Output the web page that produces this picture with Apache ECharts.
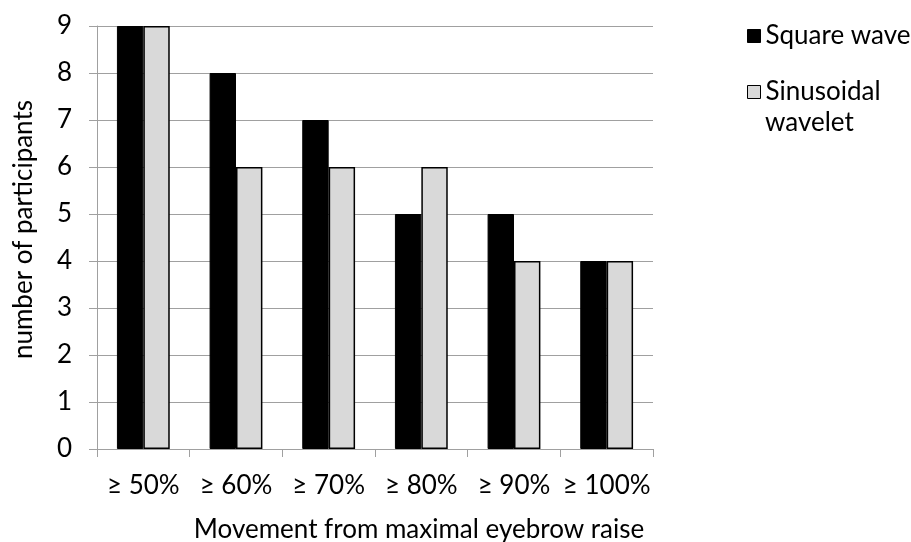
<!DOCTYPE html>
<html>
<head>
<meta charset="utf-8">
<script src="https://cdn.jsdelivr.net/npm/echarts@6/dist/echarts.min.js"></script>
<style>html,body{margin:0;padding:0;background:#fff}#c{width:911px;height:542px}</style>
</head>
<body>
<div id="c"></div>
<script>
var categories = ['≥ 50%', '≥ 60%', '≥ 70%', '≥ 80%', '≥ 90%', '≥ 100%'];
var squareWave = [9, 8, 7, 5, 5, 4];
var sinusoidalWavelet = [9, 6, 6, 6, 4, 4];
var yTicks = [0, 1, 2, 3, 4, 5, 6, 7, 8, 9];
var seriesNames = ['Square wave', 'Sinusoidal wavelet'];

var FONT = 'Lato';
var FS = 26;
var chart = echarts.init(document.getElementById('c'), null, {renderer: 'canvas'});
chart.setOption({
  animation: false,
  backgroundColor: '#ffffff',
  textStyle: {fontFamily: FONT, color: '#000'},
  grid: {left: 97, right: 258, top: 26, bottom: 93, containLabel: false, outerBoundsMode: 'none'},
  legend: {
    orient: 'vertical',
    left: 747,
    top: 20,
    padding: 0,
    itemWidth: 13,
    itemHeight: 13,
    itemGap: 24,
    icon: 'rect',
    selectedMode: false,
    textStyle: {fontFamily: FONT, fontSize: FS, color: '#000', lineHeight: 32},
    data: [
      {name: seriesNames[0], itemStyle: {color: '#000', borderColor: '#000', borderWidth: 1}},
      {name: seriesNames[1], itemStyle: {color: '#d9d9d9', borderColor: '#000', borderWidth: 1}}
    ],
    formatter: function (n) { return n === seriesNames[1] ? 'Sinusoidal' : n; }
  },
  graphic: [{
    type: 'text',
    left: 765,
    top: 110,
    style: {text: 'wavelet', fontFamily: FONT, fontSize: FS, fill: '#000'}
  }],
  xAxis: {
    type: 'category',
    data: categories,
    name: 'Movement from maximal eyebrow raise',
    nameLocation: 'middle',
    nameGap: 68,
    nameTextStyle: {fontFamily: FONT, fontSize: FS, color: '#000', padding: [0, 0, 0, 88]},
    axisLine: {show: true, lineStyle: {color: '#a0a0a0', width: 1}},
    axisTick: {show: true, length: 8, alignWithLabel: false, lineStyle: {color: '#a0a0a0'}},
    axisLabel: {fontFamily: FONT, fontSize: FS, color: '#000', margin: 24, interval: 0, hideOverlap: false},
    splitLine: {show: false}
  },
  yAxis: {
    type: 'value',
    min: 0,
    max: 9,
    interval: 1,
    name: 'number of participants',
    nameLocation: 'middle',
    nameGap: 60,
    nameRotate: 90,
    nameTextStyle: {fontFamily: FONT, fontSize: FS, color: '#000', padding: [0, 0, 0, 16]},
    axisLine: {show: true, lineStyle: {color: '#a0a0a0', width: 1}},
    axisTick: {show: true, length: 8, lineStyle: {color: '#a0a0a0'}},
    axisLabel: {fontFamily: FONT, fontSize: FS, color: '#000', margin: 25,
      formatter: function (v) { return yTicks.indexOf(v) >= 0 ? String(v) : ''; }},
    splitLine: {show: true, lineStyle: {color: '#a0a0a0', width: 1}}
  },
  series: [
    {
      name: seriesNames[0], type: 'bar', data: squareWave,
      barGap: '0%', barCategoryGap: '43%',
      itemStyle: {color: '#000', borderColor: '#000', borderWidth: 1}
    },
    {
      name: seriesNames[1], type: 'bar', data: sinusoidalWavelet,
      barGap: '0%', barCategoryGap: '43%',
      itemStyle: {color: '#d9d9d9', borderColor: '#000', borderWidth: 1.5}
    }
  ]
});
</script>
</body>
</html>
